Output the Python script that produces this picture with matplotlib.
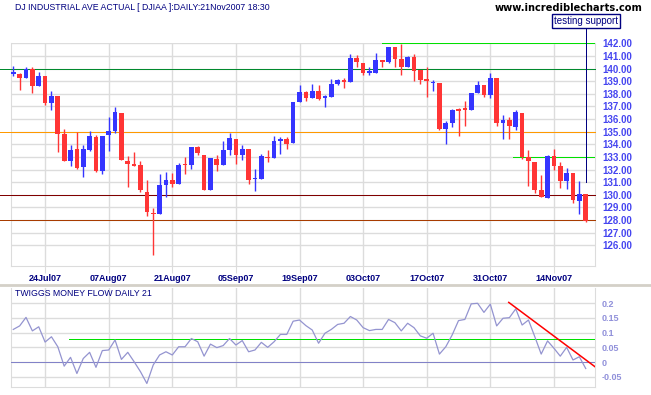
import numpy as np
import matplotlib.pyplot as plt
from matplotlib.lines import Line2D

plt.rcParams['font.family'] = ['Liberation Sans', 'DejaVu Sans']

# DJIA daily candles (in hundreds), 17 Jul 2007 .. 21 Nov 2007
opens = [139.55, 139.60, 139.23, 140.00, 138.60, 139.44, 137.25, 137.86, 134.79, 132.70,
         133.66, 132.17, 133.58, 134.61, 131.86, 134.71, 135.03, 136.51, 132.70, 132.41,
         132.39, 130.25, 128.58, 128.50, 130.80, 131.20, 130.88, 132.39, 132.39, 133.81,
         133.18, 130.40, 132.86, 132.39, 133.58, 134.45, 133.13, 133.66, 131.22, 131.28,
         133.02, 132.94, 134.24, 134.45, 134.08, 137.38, 138.18, 137.70, 138.26, 137.70,
         137.78, 138.81, 139.10, 138.97, 140.87, 140.40, 139.68, 139.68, 140.71, 140.48,
         141.67, 140.79, 140.16, 140.95, 139.92, 139.21, 138.84, 138.89, 135.24, 135.72,
         136.75, 136.83, 136.75, 138.10, 138.73, 137.94, 139.29, 135.72, 135.96, 135.40,
         136.51, 133.02, 132.62, 130.40, 129.77, 133.10, 132.31, 131.12, 131.75, 129.53,
         130.09]
highs = [140.24, 139.68, 140.16, 140.16, 139.76, 139.44, 138.26, 137.86, 135.24, 133.97,
         134.98, 133.97, 135.08, 134.77, 134.69, 136.14, 136.99, 136.51, 133.10, 133.42,
         132.70, 131.20, 128.92, 131.67, 131.83, 131.75, 132.49, 133.02, 133.81, 133.90,
         133.18, 132.94, 133.18, 134.30, 134.93, 134.45, 133.97, 133.66, 132.07, 133.26,
         133.58, 134.69, 134.61, 134.55, 137.38, 138.73, 138.26, 138.81, 138.73, 137.91,
         139.21, 139.21, 139.26, 141.19, 141.11, 140.40, 140.16, 141.27, 140.71, 141.74,
         141.67, 141.98, 141.03, 141.19, 139.92, 140.16, 139.13, 138.89, 135.88, 136.83,
         136.91, 137.46, 138.10, 139.05, 138.73, 139.68, 139.29, 136.35, 136.20, 136.75,
         136.51, 133.58, 132.62, 131.59, 133.18, 133.66, 132.62, 132.15, 131.75, 131.09,
         130.09]
lows = [139.44, 138.28, 139.23, 138.04, 138.60, 137.10, 136.75, 133.37, 132.65, 132.25,
        132.02, 131.38, 133.50, 131.78, 131.65, 133.50, 134.87, 132.73, 130.59, 132.25,
        130.22, 128.34, 125.20, 128.50, 129.85, 130.59, 130.88, 131.67, 132.07, 133.13,
        130.35, 130.40, 131.86, 132.39, 133.18, 132.47, 132.78, 130.83, 130.27, 131.28,
        132.62, 132.94, 133.26, 133.66, 134.08, 137.38, 137.46, 137.70, 137.54, 136.99,
        137.78, 138.73, 138.49, 138.97, 140.16, 139.52, 139.52, 139.68, 140.16, 140.40,
        140.16, 139.52, 140.16, 139.05, 138.81, 137.78, 138.26, 135.16, 134.05, 135.40,
        134.69, 135.48, 136.75, 138.10, 137.78, 137.70, 135.48, 134.45, 134.45, 135.16,
        132.86, 130.67, 130.16, 129.85, 129.77, 132.00, 130.56, 130.48, 129.37, 128.45,
        127.87]
closes = [139.76, 139.23, 140.00, 138.60, 139.44, 137.25, 137.86, 134.79, 132.65, 133.58,
          132.12, 133.66, 134.69, 131.86, 134.69, 135.08, 136.59, 132.73, 132.41, 132.31,
          130.35, 128.61, 128.45, 130.80, 131.20, 130.88, 132.39, 132.33, 133.81, 133.29,
          130.40, 132.94, 132.39, 133.58, 134.53, 133.13, 133.66, 131.14, 131.28, 133.10,
          132.94, 134.29, 134.45, 134.05, 137.38, 138.18, 137.70, 138.26, 137.62, 137.83,
          138.81, 139.10, 138.97, 140.87, 140.48, 139.68, 139.76, 140.71, 140.48, 141.67,
          140.79, 140.16, 140.95, 139.84, 139.13, 139.00, 138.89, 135.24, 135.72, 136.75,
          136.67, 136.75, 138.10, 138.73, 137.94, 139.29, 135.72, 135.96, 135.48, 136.59,
          133.02, 132.70, 130.40, 129.85, 133.10, 132.31, 131.12, 131.75, 129.61, 130.09,
          127.95]

# Twiggs Money Flow 21
tmf = [0.111, 0.123, 0.152, 0.106, 0.120, 0.068, 0.086, 0.052, -0.014, 0.016,
       -0.039, 0.012, 0.033, -0.018, 0.039, 0.041, 0.075, 0.009, 0.033, 0.001,
       -0.033, -0.073, -0.010, 0.024, 0.035, 0.024, 0.052, 0.052, 0.080, 0.069,
       0.020, 0.061, 0.049, 0.056, 0.080, 0.058, 0.073, 0.035, 0.041, 0.067,
       0.050, 0.069, 0.094, 0.094, 0.139, 0.143, 0.124, 0.109, 0.064, 0.098,
       0.111, 0.128, 0.132, 0.155, 0.143, 0.117, 0.107, 0.111, 0.111, 0.145,
       0.134, 0.106, 0.132, 0.117, 0.089, 0.081, 0.098, 0.027, 0.052, 0.092,
       0.141, 0.145, 0.198, 0.200, 0.169, 0.197, 0.123, 0.149, 0.151, 0.181,
       0.126, 0.143, 0.086, 0.027, 0.072, 0.047, 0.020, 0.050, 0.007, 0.018,
       -0.022]

date_pos = [5, 15, 25, 35, 45, 55, 65, 75, 85]
date_labels = ['24Jul07', '07Aug07', '21Aug07', '05Sep07', '19Sep07',
               '03Oct07', '17Oct07', '31Oct07', '14Nov07']

price_ticks = list(range(126, 143))
tmf_ticks = [-0.05, 0, 0.05, 0.1, 0.15, 0.2]
tmf_tick_labels = ['-0.05', '0', '0.05', '0.1', '0.15', '0.2']

# support / resistance lines drawn on the chart
long_levels = [140, 135, 130, 128]
long_colors = ['#008A2E', '#FF9900', '#800000', '#A83C00']
short_levels = [142, 133]
short_starts = [58, 78.6]
tmf_signal = 0.08
tmf_trend_x = [77.9, 91.46]
tmf_trend_y = [0.203, -0.016]
marker_x = 90.1
marker_y = [131.05, 143.2]

W, H = 651, 395
fig = plt.figure(figsize=(W / 100, H / 100), dpi=100)


def px_axes(l, t, r, b):
    return fig.add_axes([l / W, 1 - b / H, (r - l) / W, (b - t) / H])


grid_c = '#DCDCDC'
up_c, down_c = '#3535FF', '#FF3535'
navy = '#000080'
lime = '#00E000'
px1 = 0.5  # thin crisp line

ax = px_axes(11, 43.3, 595, 266)
ax2 = px_axes(11, 288, 595, 387.3)

x = np.arange(len(closes))
o = np.array(opens)
c = np.array(closes)
xmin, xmax = -0.36, 91.46

# candles
cols = [up_c if cc >= oo else down_c for oo, cc in zip(o, c)]
ax.vlines(x, lows, highs, colors=cols, lw=1, zorder=4)
body = np.maximum(np.abs(c - o), 0.09)
ax.bar(x, body, bottom=np.minimum(o, c), width=0.74, color=cols, lw=0, zorder=5)

for lv, lc in zip(long_levels, long_colors):
    ax.hlines(lv, -2.1, xmax, colors=lc, lw=px1, clip_on=False, zorder=3,
              antialiased=False)
for lv, st in zip(short_levels, short_starts):
    ax.hlines(lv, st, xmax, colors=lime, lw=px1, zorder=3, antialiased=False)
ax.plot([marker_x, marker_x], marker_y, color=navy, lw=px1, clip_on=False, zorder=6,
        antialiased=False)

ax.set_xlim(xmin, xmax)
ax.set_ylim(124.36, 142)
ax.set_yticks(price_ticks)
ax.set_yticklabels([f'{v:.2f}' for v in price_ticks])
ax.yaxis.tick_right()
ax.set_xticks(date_pos)
ax.set_xticklabels(date_labels)
ax.grid(True, color=grid_c, lw=1)
ax.set_axisbelow(True)
ax.tick_params(axis='y', length=0, pad=5, labelcolor='#4545F0', labelsize=7)
ax.tick_params(axis='x', length=5, color=grid_c, pad=1, labelcolor=navy, labelsize=6.5)
for t in ax.get_yticklabels() + ax.get_xticklabels():
    t.set_fontweight('bold')
for s in ax.spines.values():
    s.set_color(grid_c)
ax.spines['top'].set_visible(False)

# money flow panel
ax2.plot(x, tmf, color='#9494D0', lw=0.9, zorder=4)
ax2.axhline(0, color='#8282C8', lw=px1, zorder=3, antialiased=False)
ax2.hlines(tmf_signal, 8.8, xmax, colors=lime, lw=px1, zorder=3, antialiased=False)
ax2.plot(tmf_trend_x, tmf_trend_y, color='#FF0000', lw=1.1, zorder=5)
ax2.set_xlim(xmin, xmax)
ax2.set_ylim(-0.086, 0.252)
ax2.set_yticks(tmf_ticks)
ax2.set_yticklabels(tmf_tick_labels)
ax2.yaxis.tick_right()
ax2.set_xticks(date_pos)
ax2.set_xticklabels([])
ax2.grid(True, color=grid_c, lw=1)
ax2.set_axisbelow(True)
ax2.tick_params(axis='y', length=0, pad=5, labelcolor='#9090DA', labelsize=6.5)
ax2.tick_params(axis='x', length=0)
for t in ax2.get_yticklabels():
    t.set_fontweight('bold')
for s in ax2.spines.values():
    s.set_color(grid_c)
ax2.spines['top'].set_visible(False)

# panel separator
fig.add_artist(Line2D([0, 1], [1 - 285 / H] * 2, transform=fig.transFigure,
                      color='#D4D0C8', lw=2))

# texts
fig.text(15 / W, 1 - 7.5 / H, 'DJ INDUSTRIAL AVE ACTUAL [ DJIAA ]:DAILY:21Nov2007 18:30',
         color=navy, fontsize=6.3, va='center', ha='left')
fig.text(15 / W, 1 - 294 / H, 'TWIGGS MONEY FLOW DAILY 21',
         color=navy, fontsize=6.3, va='center', ha='left')
fig.text(495 / W, 1 - 8 / H, 'www.incrediblecharts.com', color='black',
         fontsize=7.1, fontweight='bold', family='DejaVu Sans', va='center', ha='left')
fig.text(586 / W, 1 - 21 / H, 'testing support', color=navy, fontsize=7,
         va='center', ha='center',
         bbox=dict(boxstyle='square,pad=0.25', fc='white', ec=navy, lw=1))

plt.savefig('out.png', dpi=100)
